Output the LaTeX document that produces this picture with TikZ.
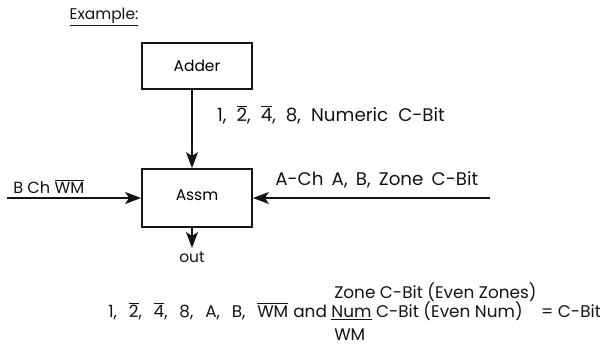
\documentclass[tikz,border=0pt]{standalone}
\usepackage{fontspec}
\setmainfont{Poppins}
\usepackage{tikz}
\usetikzlibrary{arrows.meta,positioning,calc}
\definecolor{ink}{RGB}{20,20,20}
\tikzset{
  blk/.style={draw=ink,line width=1.3pt,minimum width=2.75cm,align=center},
  ar/.style={-{Stealth[length=4mm,width=3mm,inset=1mm]},line width=1.3pt,draw=ink},
  lbl/.style={inner sep=0pt,text=ink},
  wide/.style={font=\fontsize{13}{15}\selectfont},
}
\newcommand{\ovl}[1]{$\overline{\hbox{#1}}$}
\newcommand{\wsp}[1]{\spaceskip=#1\relax}

\begin{document}
\begin{tikzpicture}[every node/.style={font=\fontsize{11}{13}\selectfont}]
  \useasboundingbox (0,0) rectangle (15,-8.6);
  % heading
  \node[lbl] (ex) at (2.6,-0.42) {\underline{Example:}};
  % blocks
  \node[blk,minimum height=1.15cm] (adder) at (4.925,-1.65) {Adder};
  \node[blk,minimum height=1.45cm] (assm)  at (4.925,-4.95) {\raisebox{1.5mm}{Assm}};
  % free ends
  \coordinate (bin)  at (0.175,-4.95);
  \coordinate (ain)  at (12.25,-4.95);
  \coordinate (outp) at (4.8,-6.2);
  % connectors
  \draw[ar] ([xshift=-1.25mm]adder.south) -- ([xshift=-1.25mm]assm.north);
  \draw[ar] (bin) -- (assm.west);
  \draw[ar] (ain) -- (assm.east);
  \draw[ar] ([xshift=-1.25mm]assm.south) -- (outp);
  % labels
  \node[lbl,wide,anchor=west] (num) at (5.42,-2.875) {\wsp{0.55em}1, \ovl{2}, \ovl{4}, 8, Numeric C-Bit};
  \node[lbl,anchor=west,font=\fontsize{11.5}{13}\selectfont] (bch) at (0.325,-4.675) {B Ch \ovl{WM}};
  \node[lbl,wide,anchor=west] (ach) at (6.875,-4.5) {\wsp{0.45em}A-Ch A, B, Zone C-Bit};
  \node[lbl] (out) at (4.8,-6.43) {out};
  % bottom rule
  \begin{scope}[every node/.style={lbl,font=\fontsize{12}{14}\selectfont}]
    \node[anchor=base east] (eqa) at (8.18,-7.93)
      {\wsp{0.7em}1, \ovl{2}, \ovl{4}, 8, A, B, \ovl{WM}\hspace{0.3em}and};
    \node[anchor=base west] (eqz) at (8.35,-7.45) {Zone C-Bit (Even Zones)};
    \node[anchor=base west] (eqn) at (8.28,-7.93) {\underline{Num} C-Bit (Even Num)\hspace{1.1em}= C-Bit};
    \node[anchor=base west] (eqw) at (8.35,-8.5)  {WM};
  \end{scope}
\end{tikzpicture}
\end{document}
